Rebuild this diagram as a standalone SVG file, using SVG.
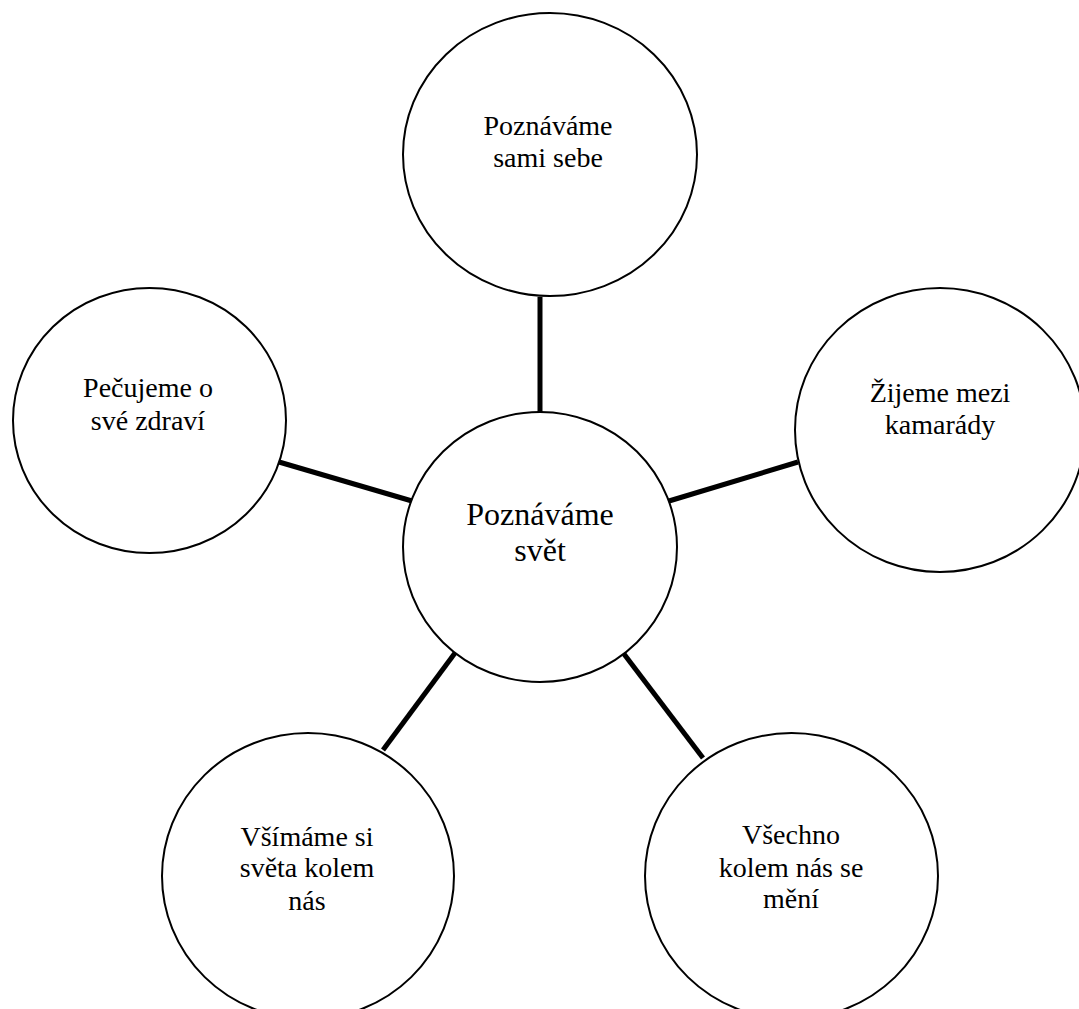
<svg xmlns="http://www.w3.org/2000/svg" width="1079" height="1009" viewBox="0 0 1079 1009">
<style>
.node{fill:#fff;stroke:#000;stroke-width:2}
.t{font-family:"Liberation Serif","Times New Roman",serif;font-size:28px;fill:#000;text-anchor:middle}
.tc{font-size:32px}
.edge{stroke:#000;stroke-width:5;fill:none}
</style>
<rect width="1079" height="1009" fill="#fff"/>
<g id="connectors">
<line class="edge" x1="540" y1="297" x2="540" y2="412"/>
<line class="edge" x1="279" y1="462" x2="412" y2="501"/>
<line class="edge" x1="669" y1="501" x2="798" y2="462"/>
<line class="edge" x1="455" y1="653" x2="383" y2="750"/>
<line class="edge" x1="624" y1="654" x2="703" y2="758"/>
</g>
<g id="center">
<ellipse class="node" cx="540" cy="547" rx="137" ry="135"/>
<text class="t tc" x="540" y="525">Poznáváme</text>
<text class="t tc" x="540" y="561">svět</text>
</g>
<g id="top">
<ellipse class="node" cx="550" cy="154.5" rx="147" ry="141.5"/>
<text class="t" x="548" y="135">Poznáváme</text>
<text class="t" x="548" y="167">sami sebe</text>
</g>
<g id="left">
<ellipse class="node" cx="149.5" cy="420.5" rx="136.5" ry="132.5"/>
<text class="t" x="148" y="397">Pečujeme o</text>
<text class="t" x="148" y="430">své zdraví</text>
</g>
<g id="right">
<ellipse class="node" cx="940" cy="430" rx="145" ry="142"/>
<text class="t" x="940" y="402">Žijeme mezi</text>
<text class="t" x="940" y="434">kamarády</text>
</g>
<g id="bottom-left">
<ellipse class="node" cx="308" cy="876" rx="146" ry="143"/>
<text class="t" x="307" y="846">Všímáme si</text>
<text class="t" x="307" y="877">světa kolem</text>
<text class="t" x="307" y="910">nás</text>
</g>
<g id="bottom-right">
<ellipse class="node" cx="791.5" cy="876" rx="146.5" ry="143"/>
<text class="t" x="791" y="844">Všechno</text>
<text class="t" x="791" y="877">kolem nás se</text>
<text class="t" x="791" y="908">mění</text>
</g>
</svg>
